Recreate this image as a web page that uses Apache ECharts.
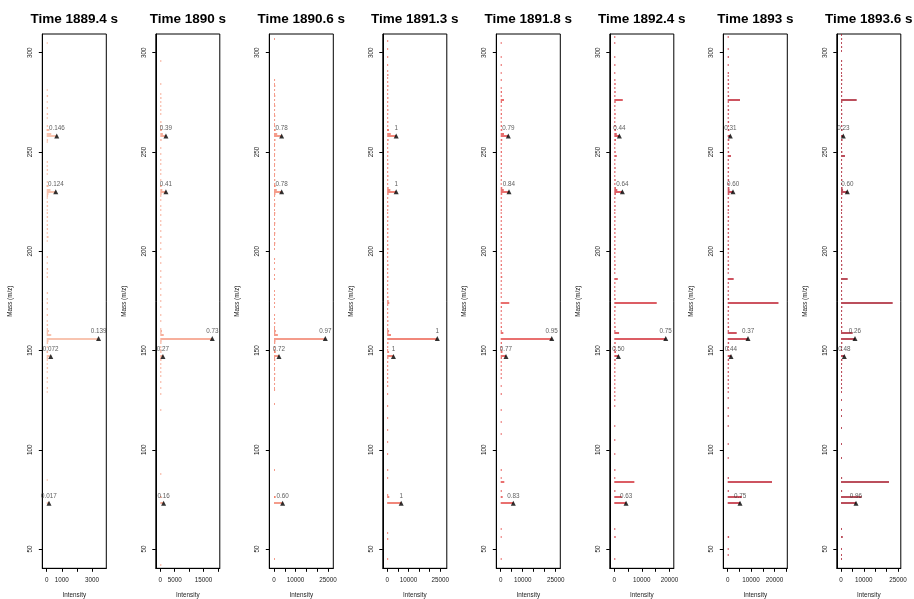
<!DOCTYPE html>
<html>
<head>
<meta charset="utf-8">
<script src="https://cdn.jsdelivr.net/npm/echarts@6/dist/echarts.min.js"></script>
<style>
html,body{margin:0;padding:0;background:#fff}
#chart{width:914px;height:599px}
</style>
</head>
<body>
<div id="chart"></div>
<script>
// Scan times (s) of the eight spectra
const scanTimes = ['1889.4', '1890', '1890.6', '1891.3', '1891.8', '1892.4', '1893', '1893.6'];

// Target ions marked with a triangle (m/z)
const targetMz = [258, 230, 156, 147, 73];

// Intensity of each target ion, one row per scan
const targetIntensity = [
  [667, 600, 3440, 267, 150],
  [1970, 1970, 18050, 920, 1160],
  [3550, 3550, 23760, 2310, 4010],
  [4250, 4250, 23600, 2970, 6600],
  [3450, 3770, 23200, 2400, 5730],
  [1850, 2930, 18660, 1500, 4280],
  [1110, 2270, 8680, 1410, 5260],
  [1010, 2760, 6140, 1450, 6580]
];

// Score printed above each target ion
const targetScore = [
  ['0.146', '0.124', '0.139', '0.072', '0.017'],
  ['0.39', '0.41', '0.73', '0.27', '0.16'],
  ['0.78', '0.78', '0.97', '0.72', '0.60'],
  ['1', '1', '1', '1', '1'],
  ['0.79', '0.84', '0.95', '0.77', '0.83'],
  ['0.44', '0.64', '0.75', '0.50', '0.63'],
  ['0.31', '0.60', '0.37', '0.44', '0.75'],
  ['0.23', '0.60', '0.26', '0.48', '0.96']
];

// Other visible peaks [m/z, intensity]
const otherPeaks = [
  [[259, 300], [261, 180], [231, 250], [233, 120], [158, 300], [160, 150], [149, 90]],
  [[259, 900], [261, 500], [231, 700], [233, 300], [158, 1200], [160, 600], [149, 400], [76, 300]],
  [[259, 1500], [261, 700], [231, 1300], [233, 600], [158, 1800], [160, 900], [149, 800], [76, 800]],
  [[259, 1700], [261, 800], [231, 1500], [174, 1000], [158, 1800], [160, 900], [149, 900], [76, 1000]],
  [[276, 1500], [259, 1500], [231, 1400], [187, 700], [174, 3900], [159, 1200], [149, 800], [84, 1640], [76, 900]],
  [[276, 3080], [259, 900], [248, 900], [231, 1100], [186, 1270], [174, 15400], [159, 1740], [149, 600], [84, 7280], [76, 2720], [56, 500]],
  [[276, 5260], [248, 1400], [231, 800], [186, 2560], [174, 21700], [159, 3850], [84, 18930], [76, 6100], [56, 600]],
  [[276, 6890], [248, 1750], [231, 900], [186, 2940], [174, 22680], [159, 5130], [84, 21050], [76, 9080], [56, 800]]
];

// Low-level ions near the baseline [m/z, intensity]
const baselinePeaks = [
  [[305, 60], [281, 70], [278, 90], [275, 60], [272, 80], [269, 90], [267, 60], [263, 90], [261, 120], [256, 90], [255, 70],
   [245, 80], [243, 60], [241, 90], [239, 60], [235, 80], [233, 90], [229, 120], [228, 90], [227, 60], [225, 80], [223, 90],
   [221, 60], [219, 80], [217, 90], [215, 60], [213, 80], [211, 90], [209, 60], [207, 120], [205, 60], [197, 80], [194, 60],
   [191, 90], [189, 60], [187, 80], [179, 90], [176, 60], [174, 80], [171, 60], [168, 80], [165, 60], [163, 90], [161, 80],
   [159, 90], [155, 120], [154, 90], [152, 80], [149, 60], [146, 90], [145, 80], [143, 60], [141, 90], [139, 60], [136, 80],
   [134, 60], [131, 80], [129, 60], [85, 60]],
  [[312, 300], [296, 250], [284, 300], [279, 250], [277, 400], [275, 300], [273, 250], [271, 300], [269, 250], [265, 400],
   [263, 300], [261, 450], [256, 450], [252, 250], [249, 300], [246, 250], [244, 300], [241, 250], [239, 300], [236, 250],
   [233, 400], [229, 450], [228, 300], [226, 250], [223, 300], [221, 250], [218, 300], [215, 250], [213, 300], [210, 250],
   [207, 400], [204, 250], [201, 300], [197, 250], [194, 300], [190, 250], [187, 300], [184, 250], [181, 300], [178, 250],
   [175, 300], [172, 250], [168, 300], [165, 250], [161, 300], [159, 400], [155, 450], [154, 400], [152, 300], [150, 250],
   [146, 300], [145, 400], [143, 250], [141, 300], [139, 250], [137, 300], [134, 250], [131, 300], [128, 250], [120, 250],
   [88, 250], [76, 300], [42, 250]],
  [[307, 400], [286, 500], [284, 400], [283, 600], [281, 500], [279, 400], [278, 600], [276, 500], [274, 400], [273, 600],
   [271, 500], [269, 400], [268, 600], [266, 500], [264, 400], [263, 600], [261, 700], [256, 700], [254, 500], [253, 400],
   [251, 600], [249, 500], [248, 400], [246, 600], [244, 500], [243, 400], [241, 600], [239, 500], [238, 400], [236, 600],
   [234, 500], [233, 700], [229, 700], [228, 500], [226, 400], [224, 600], [223, 500], [221, 400], [219, 600], [218, 500],
   [216, 400], [214, 600], [213, 500], [211, 400], [209, 600], [208, 500], [206, 400], [204, 600], [203, 500], [201, 400],
   [196, 500], [194, 400], [191, 500], [188, 400], [186, 500], [180, 400], [178, 500], [176, 400], [174, 500], [172, 400],
   [168, 500], [166, 400], [164, 600], [162, 500], [161, 400], [159, 600], [155, 700], [154, 600], [152, 500], [150, 400],
   [149, 600], [146, 500], [145, 600], [143, 400], [141, 500], [140, 400], [138, 600], [136, 500], [135, 400], [133, 500],
   [131, 400], [130, 500], [123, 400], [90, 400], [76, 500], [45, 400]],
  [[310, 400], [306, 500], [302, 400], [298, 500], [294, 400], [291, 500], [289, 600], [287, 400], [285, 500], [283, 600],
   [281, 500], [279, 400], [277, 600], [275, 500], [273, 400], [271, 600], [269, 500], [267, 400], [265, 600], [263, 500],
   [261, 700], [256, 700], [254, 500], [252, 400], [250, 600], [248, 500], [246, 400], [244, 600], [242, 500], [240, 400],
   [238, 600], [236, 500], [234, 400], [232, 700], [229, 700], [227, 500], [225, 400], [223, 600], [221, 500], [219, 400],
   [217, 600], [215, 500], [213, 400], [211, 600], [209, 500], [207, 600], [205, 400], [203, 500], [201, 600], [199, 400],
   [197, 500], [195, 400], [193, 600], [191, 500], [189, 400], [187, 600], [185, 500], [183, 400], [181, 500], [179, 400],
   [177, 600], [175, 700], [173, 500], [171, 400], [169, 500], [167, 400], [165, 600], [163, 500], [161, 400], [159, 600],
   [154, 600], [152, 500], [150, 400], [146, 600], [144, 500], [142, 400], [140, 500], [138, 400], [136, 500], [134, 400],
   [132, 500], [128, 400], [122, 400], [116, 400], [110, 400], [104, 400], [98, 400], [90, 500], [86, 400], [77, 500],
   [58, 400], [55, 500], [45, 400]],
  [[305, 400], [298, 400], [294, 500], [290, 400], [286, 500], [282, 400], [280, 600], [278, 500], [275, 600], [273, 500],
   [271, 400], [269, 600], [267, 500], [265, 400], [263, 600], [261, 700], [256, 700], [254, 500], [252, 400], [250, 600],
   [248, 500], [246, 400], [244, 600], [242, 500], [240, 400], [238, 600], [236, 500], [234, 400], [232, 700], [229, 700],
   [227, 500], [225, 400], [223, 600], [221, 500], [219, 400], [217, 600], [215, 500], [213, 400], [211, 600], [209, 500],
   [207, 600], [205, 400], [203, 500], [201, 600], [199, 400], [197, 500], [195, 400], [193, 600], [191, 500], [189, 400],
   [185, 500], [183, 400], [181, 500], [179, 400], [177, 500], [172, 600], [170, 500], [168, 400], [166, 500], [164, 400],
   [162, 600], [160, 500], [154, 600], [152, 500], [150, 400], [146, 600], [144, 500], [142, 400], [140, 500], [138, 400],
   [136, 500], [132, 400], [128, 500], [120, 400], [114, 400], [108, 400], [90, 500], [86, 400], [79, 500], [60, 400],
   [56, 400], [45, 400]],
  [[308, 300], [305, 350], [298, 300], [294, 400], [290, 300], [286, 400], [284, 500], [282, 400], [280, 500], [278, 400],
   [275, 500], [273, 400], [271, 300], [269, 500], [267, 400], [265, 300], [263, 500], [261, 600], [256, 600], [254, 400],
   [252, 300], [250, 500], [246, 400], [244, 300], [242, 500], [240, 400], [238, 300], [236, 500], [234, 400], [232, 600],
   [229, 600], [227, 400], [225, 300], [223, 500], [221, 400], [219, 300], [217, 500], [215, 400], [213, 300], [211, 500],
   [209, 400], [207, 500], [205, 300], [203, 400], [201, 500], [199, 300], [197, 400], [195, 300], [193, 500], [191, 400],
   [189, 300], [184, 400], [182, 300], [180, 400], [178, 300], [176, 500], [172, 500], [170, 400], [168, 300], [166, 400],
   [164, 300], [162, 500], [160, 400], [154, 500], [152, 400], [150, 300], [145, 500], [143, 400], [141, 300], [139, 400],
   [137, 300], [135, 400], [133, 300], [131, 400], [129, 300], [127, 400], [125, 300], [122, 300], [112, 300], [105, 300],
   [98, 300], [90, 400], [86, 300], [79, 400], [60, 300], [45, 300]],
  [[308, 400], [302, 400], [298, 500], [294, 400], [290, 500], [288, 400], [286, 500], [284, 600], [282, 500], [280, 400],
   [278, 600], [275, 500], [273, 400], [271, 600], [269, 500], [267, 400], [265, 600], [263, 500], [261, 700], [256, 700],
   [254, 500], [252, 400], [250, 600], [246, 500], [244, 400], [242, 600], [240, 500], [238, 400], [236, 600], [234, 500],
   [232, 700], [229, 700], [227, 500], [225, 400], [223, 600], [221, 500], [219, 400], [217, 600], [215, 500], [213, 400],
   [211, 600], [209, 500], [207, 600], [205, 400], [203, 500], [201, 600], [199, 400], [197, 500], [195, 400], [193, 600],
   [191, 500], [189, 400], [184, 500], [182, 400], [180, 500], [178, 400], [176, 600], [172, 600], [170, 500], [168, 400],
   [166, 500], [164, 400], [162, 600], [160, 500], [154, 600], [152, 500], [150, 400], [145, 600], [143, 500], [141, 400],
   [139, 500], [137, 400], [135, 500], [133, 400], [131, 500], [129, 400], [126, 400], [121, 400], [117, 400], [112, 400],
   [103, 400], [96, 400], [86, 500], [79, 500], [50, 400], [47, 400]],
  [[309, 400], [307, 500], [305, 400], [303, 500], [301, 400], [296, 500], [294, 400], [292, 500], [290, 400], [288, 500],
   [286, 600], [284, 500], [282, 400], [280, 600], [278, 500], [275, 600], [273, 400], [271, 500], [269, 600], [267, 400],
   [265, 500], [263, 600], [261, 700], [256, 700], [254, 500], [252, 400], [250, 600], [246, 500], [244, 400], [242, 600],
   [240, 500], [238, 400], [236, 600], [234, 500], [232, 700], [229, 700], [227, 500], [225, 400], [223, 600], [221, 500],
   [219, 400], [217, 600], [215, 500], [213, 400], [211, 600], [209, 500], [207, 600], [205, 400], [203, 500], [201, 600],
   [199, 400], [197, 500], [195, 400], [193, 600], [191, 500], [189, 400], [184, 500], [182, 400], [180, 500], [178, 400],
   [176, 600], [172, 600], [170, 500], [168, 400], [166, 500], [164, 400], [162, 600], [160, 500], [154, 600], [152, 500],
   [150, 400], [145, 600], [143, 500], [141, 400], [139, 500], [137, 400], [135, 500], [133, 400], [131, 500], [129, 400],
   [125, 400], [120, 400], [117, 400], [111, 400], [103, 400], [96, 400], [86, 500], [79, 500], [60, 400], [50, 400],
   [47, 400], [45, 400]]
];

// Intensity axis: visible range, tick positions and labelled ticks for each scan
const intensityRange = [
  [-293, 3953], [-1560, 20660], [-2170, 27450], [-2050, 28070],
  [-2000, 27090], [-1630, 21590], [-1880, 25470], [-1840, 26230]
];
const intensityTicks = [
  [0, 1000, 2000, 3000],
  [0, 5000, 10000, 15000, 20000],
  [0, 5000, 10000, 15000, 20000, 25000],
  [0, 5000, 10000, 15000, 20000, 25000],
  [0, 5000, 10000, 15000, 20000, 25000],
  [0, 5000, 10000, 15000, 20000],
  [0, 5000, 10000, 15000, 20000, 25000],
  [0, 5000, 10000, 15000, 20000, 25000]
];
const intensityTickLabels = [
  [0, 1000, 3000],
  [0, 5000, 15000],
  [0, 10000, 25000],
  [0, 10000, 25000],
  [0, 10000, 25000],
  [0, 10000, 20000],
  [0, 10000, 20000],
  [0, 10000, 25000]
];

// Mass axis
const massRange = [40.3, 309.4];
const massTicks = [50, 100, 150, 200, 250, 300];

// Line colour of each scan, pale to dark red
const scanColors = ['#f6b196', '#f4957b', '#f07b64', '#ec5f4e', '#e2413f', '#d02730', '#bd1a2b', '#a51426'];

const FONT = '"Liberation Sans", Arial, Helvetica, sans-serif';
const PANEL_LEFT = 42.3, PANEL_STEP = 113.5, PANEL_W = 64, PANEL_TOP = 34, PANEL_H = 534.3;

const grids = [], xAxes = [], yAxes = [], series = [], graphics = [];
const plain = v => String(v);

scanTimes.forEach((t, i) => {
  const left = PANEL_LEFT + PANEL_STEP * i;
  grids.push({
    left: left, top: PANEL_TOP, width: PANEL_W, height: PANEL_H,
    show: true, borderColor: '#000', borderWidth: 1, backgroundColor: 'transparent',
    outerBoundsMode: 'none'
  });
  xAxes.push({
    gridIndex: i, type: 'value',
    min: intensityRange[i][0], max: intensityRange[i][1],
    axisLine: { show: true, onZero: false, lineStyle: { color: '#000', width: 1 } },
    axisTick: { show: true, length: 3.5, customValues: intensityTicks[i], lineStyle: { color: '#000', width: 1 } },
    axisLabel: { customValues: intensityTickLabels[i], formatter: plain, fontSize: 6.3, color: '#222', margin: 9, fontFamily: FONT },
    splitLine: { show: false },
    name: 'Intensity', nameLocation: 'middle', nameGap: 24,
    nameTextStyle: { fontSize: 6.3, color: '#222', fontFamily: FONT }
  });
  yAxes.push({
    gridIndex: i, type: 'value',
    min: massRange[0], max: massRange[1],
    axisLine: { show: true, onZero: false, lineStyle: { color: '#000', width: 1 } },
    axisTick: { show: true, length: 3.5, customValues: massTicks, lineStyle: { color: '#000', width: 1 } },
    axisLabel: { customValues: massTicks, formatter: plain, rotate: 90, fontSize: 6.3, color: '#222', margin: 9, fontFamily: FONT },
    splitLine: { show: false },
    name: 'Mass (m/z)', nameLocation: 'middle', nameGap: 29, nameRotate: 90,
    nameTextStyle: { fontSize: 6.3, color: '#222', fontFamily: FONT }
  });

  const targets = targetMz.map((m, k) => [m, targetIntensity[i][k]]);
  const sticks = baselinePeaks[i].concat(otherPeaks[i], targets).map(([m, v]) => [v, m]);
  const color = scanColors[i];

  // each ion is a horizontal stick from zero intensity to its value
  series.push({
    type: 'custom', xAxisIndex: i, yAxisIndex: i, clip: true, silent: true,
    data: sticks,
    renderItem: (params, api) => {
      const v = api.value(0), m = api.value(1);
      const p0 = api.coord([0, m]);
      const p1 = api.coord([v, m]);
      const y = Math.round(p0[1]);
      return {
        type: 'line',
        shape: { x1: p0[0], y1: y, x2: Math.max(p1[0], p0[0] + 1), y2: y },
        style: { stroke: color, lineWidth: 1.5 }
      };
    }
  });

  series.push({
    type: 'scatter', xAxisIndex: i, yAxisIndex: i, silent: true,
    symbol: 'triangle', symbolSize: 5,
    itemStyle: { color: '#000' },
    data: targets.map(([m, v]) => [v, m]),
    label: {
      show: true, position: 'top', distance: 2,
      formatter: p => targetScore[i][p.dataIndex],
      fontSize: 6.3, color: '#333', fontFamily: FONT
    },
    z: 5
  });

  graphics.push({
    type: 'text', x: left + PANEL_W / 2, y: 19,
    style: {
      text: 'Time ' + t + ' s', textAlign: 'center', textVerticalAlign: 'middle',
      font: 'bold 13.5px ' + FONT, fill: '#000'
    }
  });
});

const chart = echarts.init(document.getElementById('chart'), null, { renderer: 'canvas' });
chart.setOption({
  animation: false,
  backgroundColor: '#fff',
  grid: grids,
  xAxis: xAxes,
  yAxis: yAxes,
  series: series,
  graphic: graphics
});
</script>
</body>
</html>
